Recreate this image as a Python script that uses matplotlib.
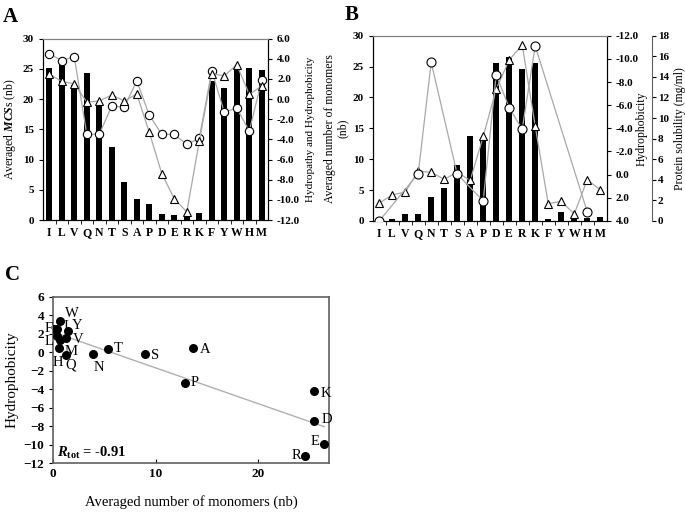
import numpy as np
import matplotlib
matplotlib.use("Agg")
import matplotlib.pyplot as plt
from matplotlib.ticker import FormatStrFormatter, MultipleLocator

plt.rcParams['font.family'] = 'Liberation Serif'
plt.rcParams['font.weight'] = 'bold'
plt.rcParams['mathtext.fontset'] = 'custom'
plt.rcParams['mathtext.rm'] = 'Liberation Serif:bold'
plt.rcParams['mathtext.it'] = 'Liberation Serif:italic:bold'
plt.rcParams['mathtext.bf'] = 'Liberation Serif:bold'

residues = ['I', 'L', 'V', 'Q', 'N', 'T', 'S', 'A', 'P', 'D', 'E', 'R', 'K', 'F', 'Y', 'W', 'H', 'M']
mcs = [25.1, 25.9, 22.3, 24.3, 19.1, 12.0, 6.2, 3.4, 2.6, 1.05, 0.9, 0.8, 1.1, 23.0, 21.8, 25.1, 25.1, 24.8]
hydropathy = [4.5, 3.8, 4.2, -3.5, -3.5, -0.7, -0.8, 1.8, -1.6, -3.5, -3.5, -4.5, -3.9, 2.8, -1.3, -0.9, -3.2, 1.9]
hydrophobicity = [2.46, 1.75, 1.50, -0.30, -0.20, 0.40, -0.20, 0.50, -3.30, -7.40, -9.90, -11.20, -4.20, 2.50, 2.30, 3.40, 0.45, 1.30]
monomers = [0.05, 0.35, 1.2, 1.2, 3.9, 5.3, 9.0, 13.7, 12.9, 25.5, 26.5, 24.6, 25.5, 0.4, 1.45, 0.7, 0.55, 0.7]
solubility = [0.0, np.nan, np.nan, 4.6, 15.4, np.nan, 4.55, np.nan, 1.95, 14.2, 11.0, 8.9, 17.0,
              np.nan, np.nan, np.nan, 0.9, np.nan]
r_tot = -0.91

# label offsets (pixels) for panel C
label_offsets = {'W': (11, 7), 'F': (-9, 1), 'I': (12, 3), 'Y': (9, 5), 'L': (-8, -5), 'V': (13, -1),
                 'M': (11, -11), 'H': (-1, -14), 'Q': (5, -10), 'N': (6, -13), 'T': (11, 0), 'S': (10, -1),
                 'A': (12, -2), 'P': (9, 0), 'K': (12, -2), 'D': (13, 1), 'E': (-9, 2), 'R': (-9, 0)}

x = np.arange(len(residues))
grey = '#a8a8a8'

fig = plt.figure(figsize=(6.85, 5.12), dpi=100)


def style_cat_axis(ax):
    ax.set_xlim(-0.5, len(residues) - 0.5)
    ax.set_xticks(x)
    ax.set_xticklabels(residues, fontsize=8.5)
    ax.tick_params(axis='x', which='major', length=0, pad=5)
    ax.set_xticks(x[:-1] + 0.5, minor=True)
    ax.tick_params(axis='x', which='minor', length=3, direction='out')
    ax.spines['top'].set_color('#808080')


# ---- panel A
axA = fig.add_axes([0.0628, 0.5703, 0.3285, 0.3545])
axA.bar(x, mcs, width=0.5, color='black', zorder=2)
axA.set_ylim(0, 30)
axA.yaxis.set_major_locator(MultipleLocator(5))
axA.tick_params(axis='y', labelsize=8, length=3, direction='out')
style_cat_axis(axA)
axA.set_ylabel(r'Averaged $\mathit{MCS}$s (nb)', fontsize=8.5, va='center')
axA.yaxis.set_label_coords(-0.145, 0.5)

axA2 = axA.twinx()
axA2.plot(x, hydropathy, color=grey, lw=0.9, marker='o', ms=6, mfc='white', mec='black', mew=0.8)
axA2.plot(x, hydrophobicity, color=grey, lw=0.9, marker='^', ms=6, mfc='white', mec='black', mew=0.8)
axA2.set_ylim(-12, 6)
axA2.yaxis.set_major_locator(MultipleLocator(2))
axA2.yaxis.set_major_formatter(FormatStrFormatter('%.1f'))
axA2.tick_params(axis='y', labelsize=8, length=3, direction='out')
axA2.spines['top'].set_color('#808080')
axA2.set_ylabel('Hydropathy and Hydrophobicity', fontsize=8, va='center')
axA2.yaxis.set_label_coords(1.19, 0.5)

# ---- panel B
axB = fig.add_axes([0.5441, 0.5684, 0.3416, 0.3619])
axB.bar(x, monomers, width=0.5, color='black', zorder=2)
axB.set_ylim(0, 30)
axB.yaxis.set_major_locator(MultipleLocator(5))
axB.tick_params(axis='y', labelsize=8, length=3, direction='out')
style_cat_axis(axB)
axB.set_ylabel('Averaged number of monomers\n(nb)', fontsize=8.5, va='center', linespacing=1.0)
axB.yaxis.set_label_coords(-0.155, 0.5)

axB2 = axB.twinx()
axB2.plot(x, hydrophobicity, color=grey, lw=0.9, marker='^', ms=6, mfc='white', mec='black', mew=0.8)
axB2.set_ylim(4, -12)
axB2.yaxis.set_major_locator(MultipleLocator(2))
axB2.yaxis.set_major_formatter(FormatStrFormatter('%.1f'))
axB2.tick_params(axis='y', labelsize=8, length=3, direction='out')
axB2.spines['top'].set_color('#808080')
axB2.set_ylabel('Hydrophobicity', fontsize=8.5, va='center')
axB2.yaxis.set_label_coords(1.15, 0.5)

axB3 = axB.twinx()
sol = np.array(solubility)
ok = ~np.isnan(sol)
axB3.plot(x[ok], sol[ok], color=grey, lw=0.9, marker='o', ms=6.5, mfc='white', mec='black', mew=0.8)
axB3.set_ylim(0, 18)
axB3.yaxis.set_major_locator(MultipleLocator(2))
axB3.spines['right'].set_position(('axes', 1.192))
axB3.spines['right'].set_color('#606060')
for s in ['top', 'left', 'bottom']:
    axB3.spines[s].set_visible(False)
axB3.tick_params(axis='y', labelsize=8, length=3, direction='out', pad=1.5)
axB3.set_ylabel('Protein solubility (mg/ml)', fontsize=8.5, va='center')
axB3.yaxis.set_label_coords(1.315, 0.5)

# ---- panel C
axC = fig.add_axes([0.0778, 0.0951, 0.4032, 0.3254])
axC.scatter(monomers, hydrophobicity, s=30, color='black', zorder=3)
fit = np.polyfit(monomers, hydrophobicity, 1)
xs = np.array([min(monomers), max(monomers)])
axC.plot(xs, np.polyval(fit, xs), color='#b0b0b0', lw=1, zorder=2)
for res, mx, hy in zip(residues, monomers, hydrophobicity):
    dx, dy = label_offsets[res]
    axC.annotate(res, (mx, hy), xytext=(dx, dy), textcoords='offset pixels',
                 ha='center', va='center', fontsize=10.5, fontweight='normal')
axC.set_xlim(0, 27)
axC.set_ylim(-12, 6)
axC.set_xticks([0, 10, 20])
axC.yaxis.set_major_locator(MultipleLocator(2))
axC.tick_params(axis='x', labelsize=9.5, length=3, direction='in')
axC.tick_params(axis='y', labelsize=9.5, length=3, direction='out')
for s in axC.spines.values():
    s.set_color('#606060')
    s.set_linewidth(1.2)
axC.text(0.015, 0.06, r'$\mathit{R}_{\mathrm{tot}}$ = %.2f' % r_tot, transform=axC.transAxes,
         fontsize=10.5, ha='left', va='center')
axC.set_ylabel('Hydrophobicity', fontsize=11, va='center')
axC.yaxis.set_label_coords(-0.15, 0.5)
axC.set_xlabel('Averaged number of monomers (nb)', fontsize=10.5, va='center')
axC.xaxis.set_label_coords(0.5, -0.23)

fig.text(0.015, 0.967, 'A', fontsize=15, ha='center', va='center')
fig.text(0.514, 0.971, 'B', fontsize=15, ha='center', va='center')
fig.text(0.018, 0.463, 'C', fontsize=15, ha='center', va='center')

fig.savefig('out.png', dpi=100)
